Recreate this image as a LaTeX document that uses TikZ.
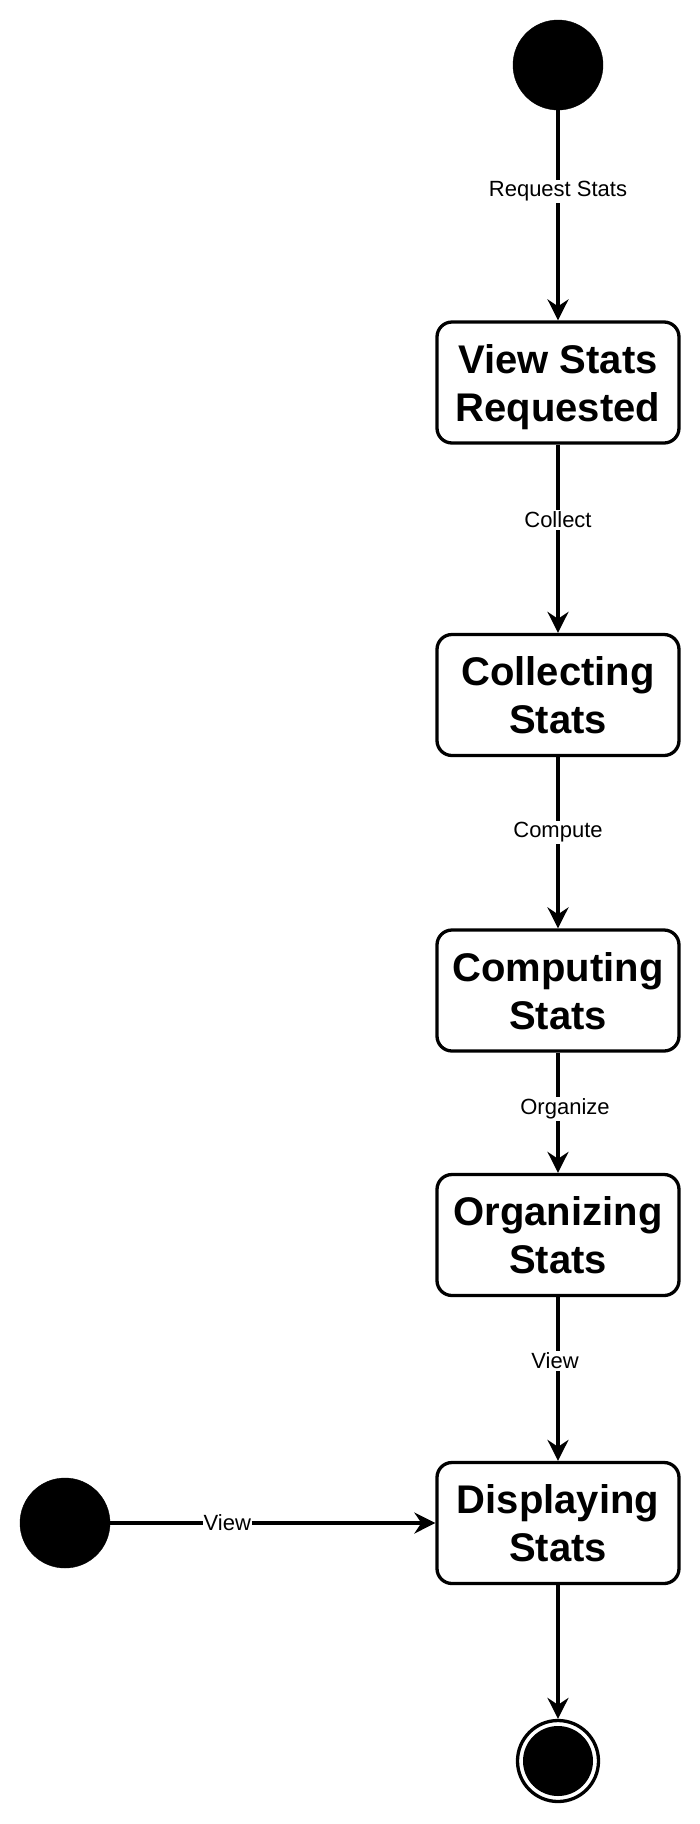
\documentclass[tikz,border=0pt]{standalone}
\usepackage{fontspec}
\setmainfont{Liberation Sans}
\usetikzlibrary{arrows.meta}
\begin{document}
\begin{tikzpicture}[x=1pt,y=-1pt,
  state/.style={draw, line width=3.3pt, rounded corners=15pt, minimum width=242pt, minimum height=121pt,
    align=center, font=\fontsize{40}{48}\selectfont\bfseries, inner sep=0pt, text depth=0pt},
  startstate/.style={circle, fill=black, draw=black, minimum size=90pt, inner sep=0pt},
  endstate/.style={circle, draw=black, line width=3.3pt, minimum size=81pt, inner sep=0pt,
    path picture={\fill[black] (path picture bounding box.center) circle (35pt);}},
  conn/.style={line width=3.3pt, -{Stealth[length=21pt, width=21pt, inset=7pt]}},
  lbl/.style={fill=white, font=\fontsize{22}{25}\selectfont, inner sep=2pt}
]
\useasboundingbox (0,0) rectangle (700,1824);

\node[startstate] (s1) at (558,65) {};
\node[state] (b1) at (558,382.5) {View Stats\\Requested};
\node[state] (b2) at (558,695) {Collecting\\Stats};
\node[state] (b3) at (558,990.5) {Computing\\Stats};
\node[state] (b4) at (558,1235) {Organizing\\Stats};
\node[state] (b5) at (558,1523) {Displaying\\Stats};
\node[startstate] (s2) at (65,1523) {};
\node[endstate] (e) at (558,1761) {};

\draw[conn] (s1) -- node[lbl, pos=0.387] {Request Stats} (b1);
\draw[conn] (b1) -- node[lbl, pos=0.40] {Collect} (b2);
\draw[conn] (b2) -- node[lbl, pos=0.44] {Compute} (b3);
\draw[conn] (b3) -- node[lbl, pos=0.47, xshift=7pt] {Organize} (b4);
\draw[conn] (b4) -- node[lbl, pos=0.39, xshift=-3pt] {View} (b5);
\draw[conn] (s2) -- node[lbl, pos=0.36, inner sep=1pt] {View} (b5);
\draw[conn] (b5) -- (e);
\end{tikzpicture}
\end{document}
